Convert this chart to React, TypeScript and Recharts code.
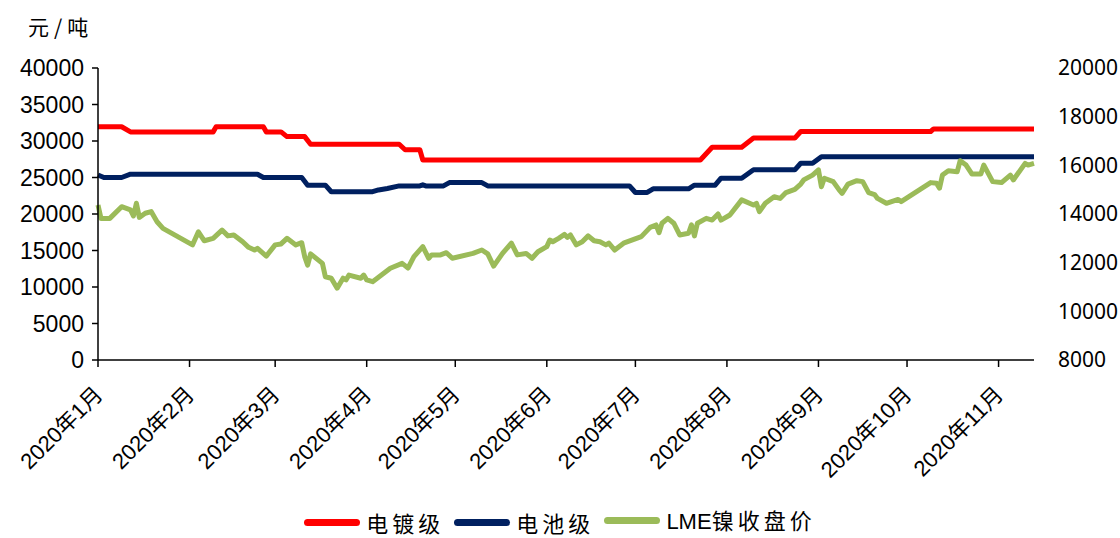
import React from 'react';
import { LineChart, Line, XAxis, YAxis, Legend } from 'recharts';

// x positions are day offsets from 2020-01-01
const monthTicks = [0, 31, 60, 91, 121, 152, 182, 213, 244, 274, 305];
const monthLabels = ['2020年1月', '2020年2月', '2020年3月', '2020年4月', '2020年5月', '2020年6月', '2020年7月', '2020年8月', '2020年9月', '2020年10月', '2020年11月'];
const leftTicks = [0, 5000, 10000, 15000, 20000, 25000, 30000, 35000, 40000];
const rightTicks = [8000, 10000, 12000, 14000, 16000, 18000, 20000];

// 电镀级
const platingDays = [0, 8, 11, 39, 40, 56, 57, 62, 64, 70, 72, 102, 104, 109, 110, 204, 208, 218, 222, 236, 238, 282, 283, 317];
const platingPrices = [31950, 31950, 31250, 31250, 31950, 31950, 31250, 31250, 30600, 30600, 29550, 29550, 28800, 28800, 27400, 27400, 29150, 29150, 30400, 30400, 31300, 31300, 31650, 31650];

// 电池级
const batteryDays = [0, 2, 8, 11, 54, 56, 69, 71, 77, 79, 93, 95, 98, 102, 109, 110, 111, 117, 119, 130, 132, 180, 182, 186, 188, 200, 202, 209, 211, 218, 222, 236, 238, 242, 245, 317];
const batteryPrices = [25350, 25000, 25000, 25450, 25450, 25000, 25000, 23950, 23950, 23050, 23050, 23300, 23500, 23850, 23850, 24000, 23850, 23850, 24300, 24300, 23850, 23850, 22950, 22950, 23450, 23450, 23950, 23950, 24900, 24900, 26050, 26050, 26950, 26950, 27850, 27850];

// LME镍收盘价 (right axis)
const lmeDays = [0, 1, 4, 8, 11, 12, 13, 14, 16, 18, 20, 22, 32, 34, 36, 39, 42, 44, 46, 49, 51, 53, 54, 57, 60, 62, 64, 67, 69, 70, 71, 72, 76, 77, 79, 81, 83, 84, 85, 89, 90, 91, 93, 96, 99, 103, 105, 107, 110, 112, 113, 116, 118, 120, 127, 130, 132, 134, 137, 140, 142, 145, 147, 149, 152, 153, 154, 156, 158, 159, 160, 162, 164, 166, 168, 170, 172, 173, 175, 178, 184, 187, 189, 190, 191, 193, 195, 197, 200, 201, 202, 203, 206, 208, 210, 211, 214, 218, 222, 223, 224, 226, 229, 231, 233, 236, 238, 239, 242, 244, 245, 246, 249, 251, 252, 254, 257, 259, 261, 263, 264, 267, 271, 272, 282, 284, 285, 286, 288, 291, 292, 294, 296, 299, 300, 303, 306, 309, 310, 314, 315, 317];
const lmePrices = [14370, 13820, 13820, 14300, 14170, 13920, 14440, 13860, 14030, 14100, 13680, 13410, 12730, 13270, 12900, 13000, 13340, 13100, 13140, 12860, 12630, 12520, 12590, 12270, 12730, 12770, 13000, 12730, 12820, 12250, 11900, 12360, 11970, 11420, 11360, 10950, 11360, 11290, 11490, 11360, 11490, 11290, 11220, 11490, 11770, 11970, 11780, 12250, 12660, 12180, 12320, 12320, 12410, 12180, 12380, 12520, 12360, 11860, 12380, 12800, 12320, 12380, 12180, 12450, 12660, 12930, 12860, 13000, 13160, 13040, 13140, 12730, 12860, 13100, 12900, 12860, 12730, 12800, 12520, 12800, 13070, 13450, 13550, 13230, 13620, 13820, 13620, 13140, 13210, 13550, 13100, 13620, 13820, 13750, 14000, 13750, 13960, 14580, 14370, 14440, 14100, 14440, 14710, 14640, 14880, 15010, 15230, 15400, 15600, 15810, 15120, 15470, 15330, 14990, 14850, 15230, 15370, 15330, 14880, 14800, 14640, 14440, 14600, 14510, 15290, 15260, 15060, 15600, 15780, 15740, 16190, 16010, 15640, 15640, 16010, 15330, 15290, 15600, 15400, 16080, 16010, 16080];

const platingData = platingDays.map((d, i) => ({ day: d, price: platingPrices[i] }));
const batteryData = batteryDays.map((d, i) => ({ day: d, price: batteryPrices[i] }));
const lmeData = lmeDays.map((d, i) => ({ day: d, price: lmePrices[i] }));

const series = [
  { prefix: '', name: '电镀级', color: '#FF0000' },
  { prefix: '', name: '电池级', color: '#002060' },
  { prefix: 'LME', name: '镍收盘价', color: '#9BBB59' },
];

const latin = '"Liberation Sans", Arial, "Noto Sans CJK SC", sans-serif';
const cjk = '"Noto Sans CJK SC", "Liberation Sans", sans-serif';

const MonthTick = (props: any) => {
  const { x, y, payload } = props;
  const idx = monthTicks.indexOf(payload.value);
  return (
    <g transform={`translate(${x + 6},${y + 27})`}>
      <text x={0} y={0} textAnchor="end" transform="rotate(-45)" fontSize={22} fontFamily={latin} fill="#000">
        {monthLabels[idx]}
      </text>
    </g>
  );
};

const renderLegend = () => (
  <div style={{ height: 38, display: 'flex', justifyContent: 'center', alignItems: 'flex-end', gap: 10, boxSizing: 'border-box' }}>
    {series.map((s) => (
      <div key={s.name} style={{ display: 'flex', alignItems: 'center', gap: 6 }}>
        <span style={{ display: 'inline-block', width: 56, height: 7, borderRadius: 4, background: s.color }} />
        <span style={{ fontSize: 22, lineHeight: '32px', fontFamily: cjk, color: '#000' }}>
          {s.prefix && <span style={{ fontFamily: latin }}>{s.prefix}</span>}
          <span style={{ letterSpacing: 4 }}>{s.name}</span>
        </span>
      </div>
    ))}
  </div>
);

export default function App() {
  return (
    <div style={{ position: 'absolute', left: 0, top: 0, width: 1120, height: 538, background: '#fff' }}>
      <div style={{ position: 'absolute', left: 28, top: 11, fontSize: 21, fontFamily: cjk, color: '#000', letterSpacing: 5 }}>元/吨</div>
      <LineChart width={1120} height={538} margin={{ top: 68, right: 0, bottom: 0, left: 0 }}>
        <XAxis
          type="number"
          dataKey="day"
          domain={[0, 317]}
          ticks={monthTicks}
          interval={0}
          tick={<MonthTick />}
          height={140}
          stroke="#000"
          strokeWidth={1.5}
          tickSize={7}
        />
        <YAxis
          yAxisId="left"
          domain={[0, 40000]}
          ticks={leftTicks}
          interval={0}
          width={98}
          stroke="#000"
          strokeWidth={1.5}
          tickSize={6}
          tickMargin={8}
          tick={{ fill: '#000', fontSize: 23, fontFamily: latin }}
        />
        <YAxis
          yAxisId="right"
          orientation="right"
          domain={[8000, 20000]}
          ticks={rightTicks}
          interval={0}
          width={86}
          axisLine={false}
          tickLine={false}
          tickMargin={18}
          tick={{ fill: '#000', fontSize: 21, fontFamily: '"Noto Sans", sans-serif' }}
        />
        <Legend verticalAlign="bottom" content={renderLegend} />
        <Line yAxisId="left" data={platingData} dataKey="price" name="电镀级" stroke="#FF0000" strokeWidth={5} dot={false} isAnimationActive={false} strokeLinejoin="round" />
        <Line yAxisId="left" data={batteryData} dataKey="price" name="电池级" stroke="#002060" strokeWidth={5} dot={false} isAnimationActive={false} strokeLinejoin="round" />
        <Line yAxisId="right" data={lmeData} dataKey="price" name="LME镍收盘价" stroke="#9BBB59" strokeWidth={5} dot={false} isAnimationActive={false} strokeLinejoin="round" />
      </LineChart>
    </div>
  );
}
